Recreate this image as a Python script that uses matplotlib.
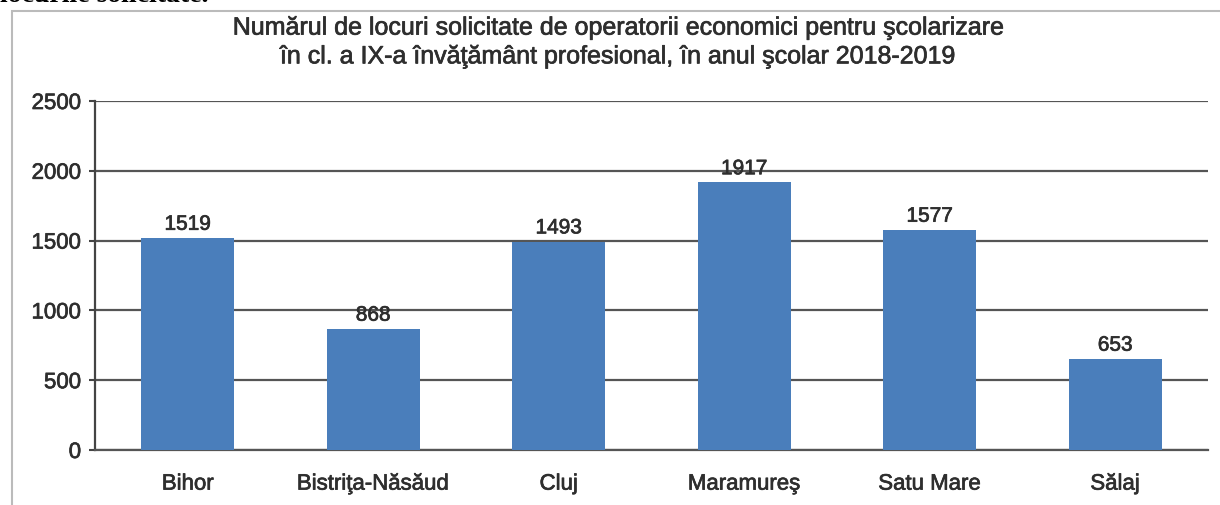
import matplotlib.pyplot as plt
from matplotlib.patches import Rectangle
import matplotlib.patheffects as pe

# Data
counties = ["Bihor", "Bistriţa-Năsăud", "Cluj", "Maramureş", "Satu Mare", "Sălaj"]
places = [1519, 868, 1493, 1917, 1577, 653]
yticks = [0, 500, 1000, 1500, 2000, 2500]

title = ("Numărul de locuri solicitate de operatorii economici pentru şcolarizare\n"
         "în cl. a IX-a învăţământ profesional, în anul şcolar 2018-2019")

plt.rcParams['font.family'] = ['Liberation Sans', 'DejaVu Sans']
text_color = "#2e2e2e"
# slight stroke so the text looks as heavy as in the blurry original
heavy = [pe.withStroke(linewidth=0.5, foreground=text_color)]

fig = plt.figure(figsize=(12.2, 5.06), dpi=100)
ax = fig.add_axes([95 / 1220, 55 / 506, 1113 / 1220, 349 / 506])

x = range(len(counties))
bars = ax.bar(x, places, width=0.5, color="#4a7ebb", zorder=3)

# value labels above bars
for rect, v in zip(bars, places):
    ax.annotate(str(v), (rect.get_x() + rect.get_width() / 2, v),
                xytext=(0, 3), textcoords="offset points",
                ha="center", va="bottom", fontsize=15, color=text_color,
                path_effects=heavy)

ax.set_xlim(-0.5, len(counties) - 0.5)
ax.set_ylim(0, 2500)
ax.set_yticks(yticks)
ax.set_xticks(list(x))
ax.set_xticklabels(counties)
ax.tick_params(axis="x", length=0, pad=17, labelsize=16, labelcolor=text_color)
ax.tick_params(axis="y", length=4, width=1.5, color="#444444", pad=6,
               labelsize=16, labelcolor=text_color)
for lbl in ax.get_xticklabels() + ax.get_yticklabels():
    lbl.set_path_effects(heavy)
ax.yaxis.grid(True, color="#555555", linewidth=1.6, zorder=0)

ax.spines["top"].set_visible(False)
ax.spines["right"].set_visible(False)
ax.spines["left"].set_color("#444444")
ax.spines["left"].set_linewidth(1.6)
ax.spines["bottom"].set_color("#555555")
ax.spines["bottom"].set_linewidth(1.6)

fig.text(618 / 1220, 1 - 43 / 506, title, ha="center", va="center",
         fontsize=18, color=text_color, linespacing=1.25, path_effects=heavy)

# outer chart border (runs past the right and bottom edges)
fig.patches.append(Rectangle((12 / 1220, -0.1), 1.2, 1 - 12 / 506 + 0.1,
                             transform=fig.transFigure, fill=False,
                             edgecolor="#bbbbbb", linewidth=1.5))

# cut-off text from the document above the chart
fig.text(0.0, 1 - 2 / 506, "locurile solicitate.", ha="left", va="baseline",
         fontsize=20, fontweight="bold", family="Liberation Serif", color="black")

plt.savefig("out.png")
